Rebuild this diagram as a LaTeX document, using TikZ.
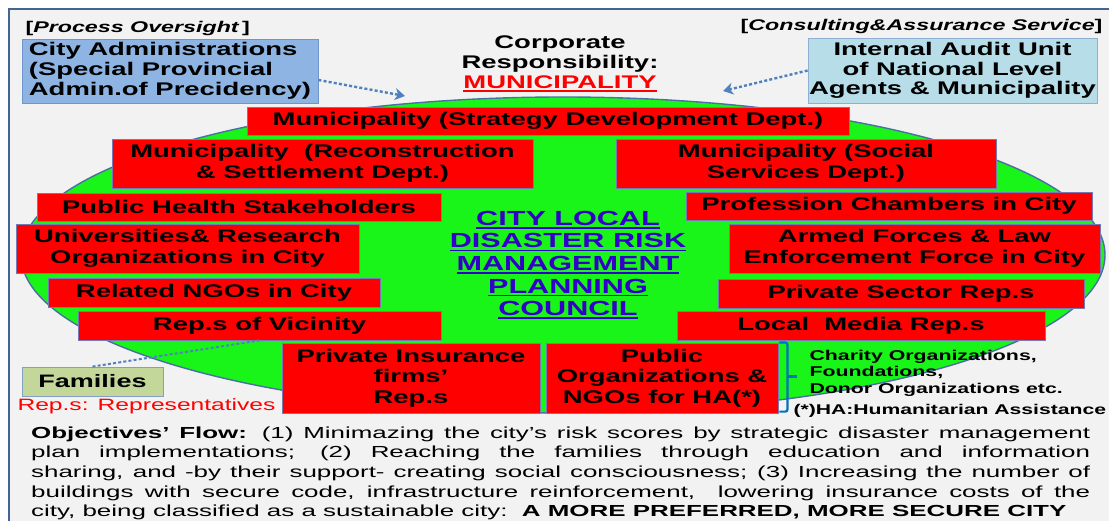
\documentclass[tikz,border=0pt]{standalone}
\usepackage{fontspec}
\setmainfont{Liberation Sans}[FakeStretch=1.5]
\newfontfamily\flowfont{Liberation Sans}[FakeStretch=1.62]
\usepackage{xcolor}
\usetikzlibrary{positioning, arrows.meta}

\definecolor{framebg}{RGB}{242,242,242}
\definecolor{frameedge}{RGB}{70,100,145}
\definecolor{councilgreen}{RGB}{25,245,25}
\definecolor{ellipseedge}{RGB}{75,110,165}
\definecolor{unitred}{RGB}{255,0,0}
\definecolor{unitedge}{RGB}{120,120,180}
\definecolor{adminblue}{RGB}{141,180,226}
\definecolor{adminedge}{RGB}{110,150,205}
\definecolor{auditblue}{RGB}{183,221,232}
\definecolor{auditedge}{RGB}{140,175,210}
\definecolor{familygreen}{RGB}{196,215,155}
\definecolor{familyedge}{RGB}{130,160,195}
\definecolor{flowblue}{RGB}{79,129,189}
\definecolor{councilblue}{RGB}{50,0,200}
\definecolor{braceblue}{RGB}{0,112,192}

\newcommand{\ulined}[1]{\leavevmode\setbox0=\hbox{#1}\rlap{\rule[-3.2pt]{\wd0}{1.6pt}}\box0}
\tikzset{
 unit/.style={fill=unitred, draw=unitedge, line width=0.8pt, inner sep=0pt,
 align=center, font=\bfseries\fontsize{18.3}{20.5}\selectfont},
 agent/.style={line width=0.8pt, inner sep=0pt, font=\bfseries\fontsize{18.3}{19.8}\selectfont},
 flow/.style={flowblue, line width=2.4pt, dash pattern=on 3pt off 2.2pt}
}

\begin{document}
\begin{tikzpicture}[x=1pt, y=-1pt, >={Stealth[length=10pt, width=12pt, inset=3pt]}]
 \useasboundingbox (0,0) rectangle (1109,521);
 \clip (0,0) rectangle (1109,521);
 \fill[white] (0,0) rectangle (1109,521);
 \draw[fill=framebg, draw=frameedge, line width=2pt] (9,9) rectangle (1130,540);

 \node[anchor=west, font=\bfseries\fontsize{15.5}{18}\selectfont] (oversight) at (22,28)
 {[\textit{Process Oversight}\,]};
 \node[anchor=east, font=\bfseries\fontsize{15.5}{18}\selectfont] (assurance) at (1106,26)
 {[\textit{Consulting\&Assurance Service}]};

 \node[agent, fill=adminblue, draw=adminedge, align=left, minimum width=296pt, minimum height=64pt]
 (cityadmin) at (170,71) {City Administrations\\(Special Provincial\\Admin.of Precidency)};
 \node[agent, fill=auditblue, draw=auditedge, align=center, minimum width=289pt, minimum height=65pt]
 (audit) at (952.5,70.5) {Internal Audit Unit\\of National Level\\Agents \& Municipality};
 \node[align=center, font=\bfseries\fontsize{18.3}{20}\selectfont] (corporate) at (560,64)
 {Corporate\\Responsibility:\\\textcolor{unitred}{\ulined{MUNICIPALITY}}};

 \draw[fill=councilgreen, draw=ellipseedge, line width=1.4pt]
 (563,255) ellipse [x radius=542pt, y radius=158pt];

 \node[unit, minimum width=602pt, minimum height=28pt] (strategy) at (548,121)
 {Municipality (Strategy Development Dept.)};
 \node[unit, minimum width=421pt, minimum height=49pt] (reconstruction) at (322.5,163.5)
 {Municipality\ \ (Reconstruction\\\& Settlement Dept.)};
 \node[unit, minimum width=380pt, minimum height=49pt] (social) at (806,163.5)
 {Municipality (Social\\Services Dept.)};
 \node[unit, minimum width=404pt, minimum height=28pt] (health) at (239,207)
 {Public Health Stakeholders};
 \node[unit, minimum width=406pt, minimum height=28pt] (chambers) at (889,206)
 {Profession Chambers in City};
 \node[unit, minimum width=343pt, minimum height=49pt] (universities) at (187.5,248.5)
 {Universities\& Research\\Organizations in City};
 \node[unit, minimum width=371pt, minimum height=49pt] (armed) at (914.5,248.5)
 {Armed Forces \& Law\\Enforcement Force in City};
 \node[unit, minimum width=332pt, minimum height=29pt] (ngos) at (214,292.5)
 {Related NGOs in City};
 \node[unit, minimum width=366pt, minimum height=29pt] (private) at (901,293.5)
 {Private Sector Rep.s};
 \node[unit, minimum width=363pt, minimum height=29pt] (vicinity) at (259.5,325.5)
 {Rep.s of Vicinity};
 \node[unit, minimum width=368pt, minimum height=29pt] (media) at (861,325.5)
 {Local\ \ Media Rep.s};
 \node[unit, minimum width=258pt, minimum height=70pt] (insurance) at (411,378)
 {Private Insurance\\firms’\\Rep.s};
 \node[unit, minimum width=232pt, minimum height=70pt] (puborg) at (662,378)
 {Public\\Organizations \&\\NGOs for HA(*)};

 \node[align=center, text=councilblue, font=\bfseries\fontsize{20.4}{22.6}\selectfont] (council) at (568,265)
 {\ulined{CITY LOCAL}\\\ulined{DISASTER RISK}\\\ulined{MANAGEMENT}\\\ulined{PLANNING}\\\ulined{COUNCIL}};

 \coordinate (admintip) at (405,96);
 \coordinate (audittip) at (723,91);
 \draw[->, flow] ([yshift=-9pt]cityadmin.east) -- (admintip);
 \draw[->, flow] (audit.west) -- (audittip);

 \node[agent, fill=familygreen, draw=familyedge, minimum width=141pt, minimum height=29pt,
 font=\bfseries\fontsize{18}{20}\selectfont] (families) at (92.5,381.5) {Families};
 \draw[flow, line width=2pt] (families.north) -- (vicinity.south);
 \node[anchor=west, text=unitred, font=\fontsize{16.4}{18}\selectfont] (repnote) at (14,406)
 {Rep.s: Representatives};

 \draw[braceblue, line width=2.2pt, rounded corners=2pt]
 ([xshift=1pt]puborg.north east) -- ++(8,0) -- ++(0,69) -- ++(-8,0);
 \draw[braceblue, line width=2.2pt] ([xshift=9pt, yshift=-34pt]puborg.north east) -- ++(10,0);
 \node[anchor=west, align=left, font=\bfseries\fontsize{14.2}{16.5}\selectfont] (donors) at (806,373)
 {Charity Organizations,\\Foundations,\\Donor Organizations etc.};
 \node[anchor=west, font=\bfseries\fontsize{14.1}{16}\selectfont] (hanote) at (790,411)
 {(*)HA:Humanitarian Assistance};

 \node[anchor=base west, text width=1059pt, align=justify, inner sep=0pt,
 font=\flowfont\fontsize{16}{19.7}\selectfont] (objectives) at (31,438)
 {\textbf{Objectives’ Flow:} (1) Minimazing the city’s risk scores by strategic disaster management\linebreak
 plan implementations; (2) Reaching the families through education and information\linebreak
 sharing, and -by their support- creating social consciousness; (3) Increasing the number of\linebreak
 buildings with secure code, infrastructure reinforcement,\ \ lowering insurance costs of the\linebreak
 city, being classified as a sustainable city:\ \ \textbf{A MORE PREFERRED, MORE SECURE CITY}};
\end{tikzpicture}
\end{document}
